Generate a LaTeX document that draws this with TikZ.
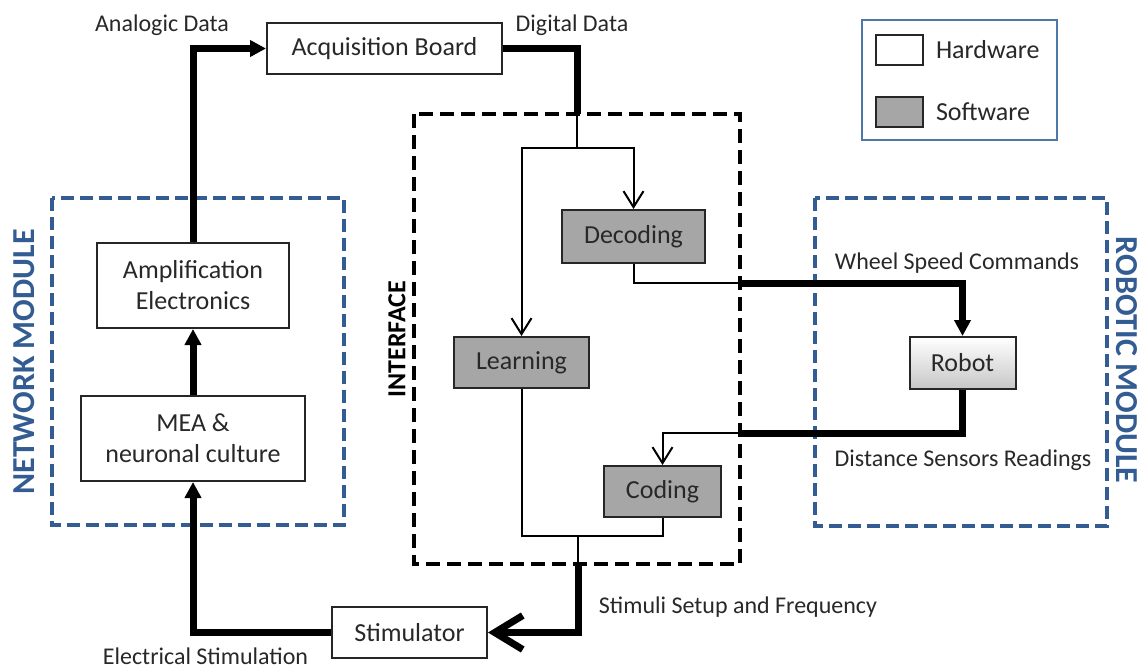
\documentclass[tikz,border=0pt]{standalone}
\usepackage{fontspec}
\setmainfont{Carlito}
\usetikzlibrary{arrows.meta, positioning}
\definecolor{modblue}{RGB}{50,92,146}
\definecolor{legblue}{RGB}{79,120,170}
\definecolor{swgray}{RGB}{166,166,166}
\definecolor{txtgray}{RGB}{40,40,40}

\begin{document}
\begin{tikzpicture}[x=0.5pt,y=-0.5pt,>={Triangle[length=8pt,width=8pt]},
		box/.style={draw=black!85,line width=1pt,align=center,inner sep=0pt,
			text=txtgray,font=\fontsize{13}{15.5}\selectfont},
		hw/.style={box,fill=white},
		sw/.style={box,fill=swgray},
		bus/.style={line width=3.5pt},
		wire/.style={line width=1pt},
		vtip/.style={-{Straight Barb[length=8pt,width=10pt]}},
		lbl/.style={text=txtgray,font=\fontsize{12}{14}\selectfont},
		module/.style={draw=modblue,line width=1.6pt,dash pattern=on 6.5pt off 3pt},
		modlabel/.style={text=modblue,font=\bfseries\fontsize{16}{18}\selectfont}]
	\useasboundingbox (0,0) rectangle (1145,670);

	\draw[module] (52,198) rectangle (344,525);
	\draw[module] (815,198) rectangle (1107,526);
	\draw[line width=2pt,dash pattern=on 7pt off 3.5pt] (414,114) rectangle (740,564);
	\node[modlabel,rotate=90] (netlbl) at (24,362) {NETWORK MODULE};
	\node[modlabel,rotate=-90] (roblbl) at (1127,360) {ROBOTIC MODULE};
	\node[rotate=90,font=\bfseries\fontsize{13}{15}\selectfont] (intlbl) at (397,339) {INTERFACE};

	\node[hw,minimum width=117.5pt,minimum height=25.5pt] (board) at (384.5,48.5) {Acquisition Board};
	\node[hw,minimum width=96pt,minimum height=42.5pt] (amp) at (193,285.5) {Amplification\\Electronics};
	\node[hw,minimum width=112pt,minimum height=42.5pt] (mea) at (193,438.5) {MEA \&\\neuronal culture};
	\node[hw,minimum width=77.5pt,minimum height=25.5pt] (stim) at (409.5,632.5) {Stimulator};
	\node[sw,minimum width=71.5pt,minimum height=26.5pt] (decoding) at (633.5,236.5) {Decoding};
	\node[sw,minimum width=67.5pt,minimum height=25.5pt] (learning) at (521.5,362.5) {Learning};
	\node[sw,minimum width=58.5pt,minimum height=25.5pt] (coding) at (662.5,491.5) {Coding};
	\node[box,top color=white,bottom color=black!22,minimum width=53pt,minimum height=26pt] (robot) at (962.5,363) {Robot};

	\node[draw=legblue,line width=0.9pt,minimum width=97.5pt,minimum height=60pt] (legend) at (959.5,80) {};
	\node[hw,minimum width=23.5pt,minimum height=15pt] (hwkey) at (899.5,50) {};
	\node[sw,minimum width=23.5pt,minimum height=15pt] (swkey) at (899.5,112) {};
	\node[box,draw=none,anchor=west,right=5.5pt of hwkey] (hwtxt) {Hardware};
	\node[box,draw=none,anchor=west,right=5.5pt of swkey] (swtxt) {Software};

	\node[lbl] (analogic) at (162,25) {Analogic Data};
	\node[lbl] (digital) at (572,25) {Digital Data};
	\node[lbl] (wheel) at (957,263) {Wheel Speed Commands};
	\node[lbl] (sensors) at (963,460) {Distance Sensors Readings};
	\node[lbl] (setup) at (738,607) {Stimuli Setup and Frequency};
	\node[lbl] (electrical) at (205.5,656) {Electrical Stimulation};

	\coordinate (dd) at (577,114);
	\coordinate (split) at (577,148);
	\coordinate (wsc) at (740,283);
	\coordinate (dsr) at (740,433);
	\coordinate (mix) at (578,536);
	\coordinate (ss) at (578,564);

	\draw[bus,->] (amp.north) |- (board.west);
	\draw[bus] (board.east) -| (dd);
	\draw[wire] (dd) -- (split);
	\draw[wire,vtip] (split) -| (learning.north);
	\draw[wire,vtip] (split) -| (decoding.north);
	\draw[wire] (decoding.south) |- (wsc);
	\draw[bus,->] (wsc) -| (robot.north);
	\draw[bus] (robot.south) |- (dsr);
	\draw[wire,vtip] (dsr) -| (coding.north);
	\draw[wire] (learning.south) |- (mix) -| (coding.south);
	\draw[wire] (mix) -- (ss);
	\draw[bus,-{Straight Barb[length=14pt,width=17pt]}] (ss) |- (stim.east);
	\draw[bus,->] (stim.west) -| (mea.south);
	\draw[bus,->] (mea.north) -- (amp.south);
\end{tikzpicture}
\end{document}
